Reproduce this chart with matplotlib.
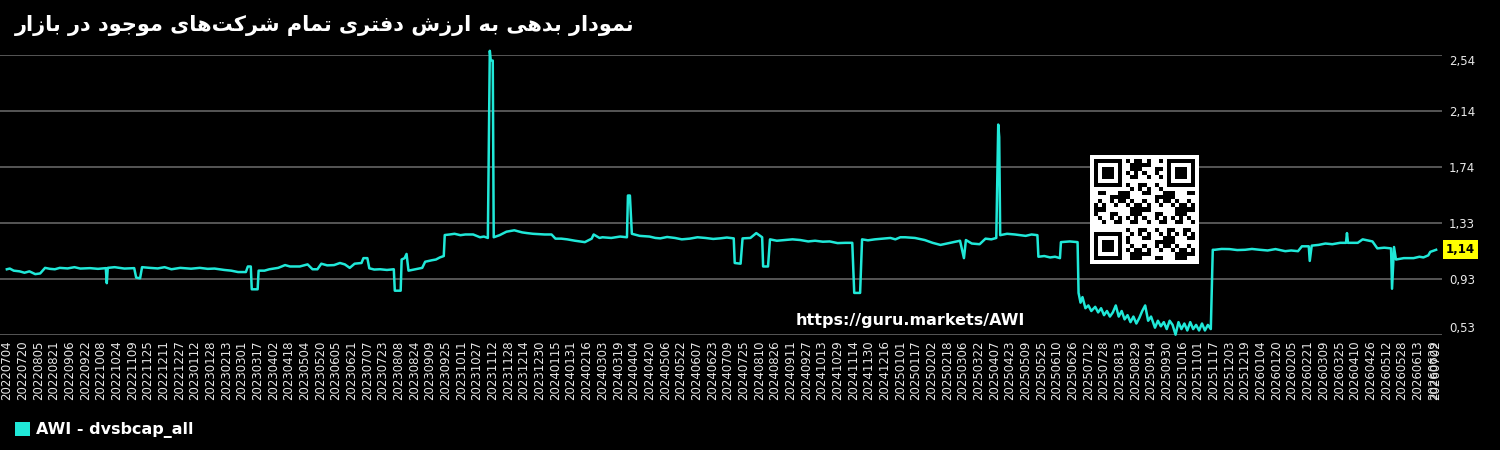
import matplotlib
matplotlib.use("Agg")
import matplotlib.pyplot as plt
from matplotlib.patches import Patch, Rectangle
from matplotlib.transforms import ScaledTranslation
import numpy as np
import pandas as pd

TITLE = "نمودار بدهی به ارزش دفتری تمام شرکت‌های موجود در بازار"
SERIES_NAME = "AWI - dvsbcap_all"
WATERMARK = "https://guru.markets/AWI"
LINE_COLOR = "#20e8d8"

dates_2022 = ["2022-07-04", "2022-07-07", "2022-07-11", "2022-07-17", "2022-07-22", "2022-07-27",
              "2022-08-02", "2022-08-07", "2022-08-12", "2022-08-17", "2022-08-22", "2022-08-27",
              "2022-09-04", "2022-09-11", "2022-09-17", "2022-09-27", "2022-10-05", "2022-10-13",
              "2022-10-14", "2022-10-15", "2022-10-22", "2022-11-01", "2022-11-11", "2022-11-13",
              "2022-11-17", "2022-11-19", "2022-11-27", "2022-12-05", "2022-12-12", "2022-12-19",
              "2022-12-28"]
values_2022 = [1.00, 1.005, 0.99, 0.985, 0.975, 0.985,
               0.965, 0.97, 1.01, 1.003, 1.00, 1.01,
               1.006, 1.015, 1.005, 1.008, 1.003, 1.008,
               0.90, 1.01, 1.015, 1.005, 1.008, 0.94,
               0.935, 1.015, 1.01, 1.006, 1.015, 1.00,
               1.01]

dates_2023 = ["2023-01-08", "2023-01-17", "2023-01-25", "2023-02-01", "2023-02-11", "2023-02-18",
              "2023-02-25", "2023-03-05", "2023-03-07", "2023-03-10", "2023-03-11", "2023-03-17",
              "2023-03-18", "2023-03-24", "2023-03-29", "2023-04-07", "2023-04-14", "2023-04-19",
              "2023-04-29", "2023-05-07", "2023-05-12", "2023-05-17", "2023-05-21", "2023-05-27",
              "2023-06-03", "2023-06-09", "2023-06-14", "2023-06-19", "2023-06-24", "2023-07-01",
              "2023-07-03", "2023-07-07", "2023-07-09", "2023-07-14", "2023-07-20", "2023-07-27",
              "2023-08-03", "2023-08-04", "2023-08-10", "2023-08-11", "2023-08-14", "2023-08-16",
              "2023-08-18", "2023-08-25", "2023-09-01", "2023-09-04", "2023-09-11", "2023-09-15",
              "2023-09-19", "2023-09-23", "2023-09-24", "2023-09-29", "2023-10-04", "2023-10-10",
              "2023-10-15", "2023-10-23", "2023-10-30", "2023-11-03", "2023-11-07", "2023-11-09",
              "2023-11-10", "2023-11-12", "2023-11-13", "2023-11-19", "2023-11-26", "2023-12-04",
              "2023-12-12", "2023-12-17", "2023-12-23"]
values_2023 = [1.004, 1.01, 1.003, 1.005, 0.995, 0.99,
               0.98, 0.98, 1.02, 1.02, 0.856, 0.856,
               0.99, 0.99, 1.00, 1.01, 1.03, 1.02,
               1.02, 1.035, 1.00, 1.00, 1.04, 1.028,
               1.03, 1.045, 1.035, 1.01, 1.04, 1.045,
               1.08, 1.08, 1.007, 0.998, 1.00, 0.995,
               1.00, 0.846, 0.846, 1.07, 1.08, 1.11,
               0.99, 1.00, 1.01, 1.054, 1.065, 1.07,
               1.085, 1.095, 1.246, 1.25, 1.255, 1.245,
               1.25, 1.25, 1.23, 1.235, 1.225, 2.57,
               2.50, 2.50, 1.23, 1.245, 1.27, 1.28,
               1.265, 1.26, 1.255]

dates_2024 = ["2024-01-04", "2024-01-11", "2024-01-15", "2024-01-21", "2024-01-27", "2024-02-04",
              "2024-02-14", "2024-02-21", "2024-02-23", "2024-02-29", "2024-03-03", "2024-03-12",
              "2024-03-21", "2024-03-28", "2024-03-29", "2024-03-31", "2024-04-02", "2024-04-10",
              "2024-04-20", "2024-04-26", "2024-05-01", "2024-05-08", "2024-05-16", "2024-05-23",
              "2024-05-31", "2024-06-08", "2024-06-16", "2024-06-24", "2024-07-01", "2024-07-08",
              "2024-07-15", "2024-07-16", "2024-07-22", "2024-07-24", "2024-08-01", "2024-08-07",
              "2024-08-13", "2024-08-14", "2024-08-19", "2024-08-21", "2024-08-28", "2024-09-05",
              "2024-09-13", "2024-09-21", "2024-09-29", "2024-10-06", "2024-10-14", "2024-10-21",
              "2024-10-29", "2024-11-06", "2024-11-13", "2024-11-15", "2024-11-21", "2024-11-23",
              "2024-11-29", "2024-12-06", "2024-12-14", "2024-12-22", "2024-12-27"]
values_2024 = [1.25, 1.25, 1.22, 1.22, 1.215, 1.205,
               1.195, 1.22, 1.25, 1.225, 1.23, 1.225,
               1.235, 1.23, 1.53, 1.53, 1.255, 1.24,
               1.235, 1.225, 1.222, 1.232, 1.225, 1.215,
               1.22, 1.23, 1.225, 1.218, 1.222, 1.228,
               1.222, 1.045, 1.04, 1.222, 1.225, 1.26,
               1.23, 1.02, 1.02, 1.215, 1.205, 1.21,
               1.215, 1.21, 1.20, 1.205, 1.198, 1.20,
               1.188, 1.19, 1.19, 0.83, 0.83, 1.215,
               1.208, 1.215, 1.22, 1.225, 1.215]

dates_2025 = ["2025-01-01", "2025-01-06", "2025-01-16", "2025-01-26", "2025-02-03", "2025-02-11",
              "2025-02-21", "2025-03-03", "2025-03-07", "2025-03-09", "2025-03-15", "2025-03-23",
              "2025-03-29", "2025-04-04", "2025-04-09", "2025-04-11", "2025-04-12", "2025-04-13",
              "2025-04-20", "2025-04-28", "2025-05-09", "2025-05-15", "2025-05-21", "2025-05-22",
              "2025-05-28", "2025-06-03", "2025-06-08", "2025-06-13", "2025-06-14", "2025-06-23",
              "2025-07-01", "2025-07-02", "2025-07-04", "2025-07-06", "2025-07-09", "2025-07-12",
              "2025-07-15", "2025-07-19", "2025-07-22", "2025-07-25", "2025-07-28", "2025-07-31",
              "2025-08-03", "2025-08-06", "2025-08-09", "2025-08-12", "2025-08-15", "2025-08-18",
              "2025-08-21", "2025-08-24", "2025-08-27", "2025-08-30", "2025-09-02", "2025-09-05",
              "2025-09-08", "2025-09-11", "2025-09-14", "2025-09-18", "2025-09-21", "2025-09-24",
              "2025-09-27", "2025-09-30", "2025-10-03", "2025-10-06", "2025-10-09", "2025-10-12",
              "2025-10-15", "2025-10-18", "2025-10-21", "2025-10-24", "2025-10-27", "2025-10-30",
              "2025-11-02", "2025-11-05", "2025-11-08", "2025-11-11", "2025-11-14", "2025-11-16",
              "2025-11-18", "2025-11-25", "2025-12-03", "2025-12-11", "2025-12-19", "2025-12-26"]
values_2025 = [1.23, 1.23, 1.225, 1.21, 1.19, 1.175,
               1.19, 1.205, 1.08, 1.21, 1.185, 1.18,
               1.22, 1.215, 1.225, 2.04, 1.95, 1.245,
               1.255, 1.25, 1.24, 1.25, 1.245, 1.09,
               1.095, 1.085, 1.09, 1.08, 1.195, 1.20,
               1.195, 0.83, 0.76, 0.80, 0.72, 0.74,
               0.70, 0.73, 0.69, 0.72, 0.67, 0.70,
               0.66, 0.69, 0.74, 0.66, 0.70, 0.64,
               0.67, 0.62, 0.66, 0.61, 0.65, 0.70,
               0.74, 0.63, 0.66, 0.58, 0.63, 0.59,
               0.62, 0.57, 0.63, 0.60, 0.53, 0.62,
               0.57, 0.61, 0.56, 0.62, 0.57, 0.60,
               0.56, 0.61, 0.56, 0.60, 0.57, 1.14,
               1.14, 1.146, 1.145, 1.138, 1.14, 1.146]

dates_2026 = ["2026-01-03", "2026-01-11", "2026-01-19", "2026-01-29", "2026-02-04", "2026-02-11",
              "2026-02-15", "2026-02-22", "2026-02-23", "2026-02-25", "2026-03-04", "2026-03-11",
              "2026-03-18", "2026-03-26", "2026-04-01", "2026-04-02", "2026-04-03", "2026-04-13",
              "2026-04-18", "2026-04-28", "2026-05-03", "2026-05-10", "2026-05-17", "2026-05-18",
              "2026-05-20", "2026-05-22", "2026-05-30", "2026-06-09", "2026-06-15", "2026-06-19",
              "2026-06-24", "2026-06-26", "2026-07-02"]
values_2026 = [1.14, 1.135, 1.145, 1.13, 1.135, 1.13,
               1.165, 1.165, 1.06, 1.17, 1.175, 1.185,
               1.18, 1.19, 1.19, 1.26, 1.19, 1.19,
               1.215, 1.20, 1.15, 1.155, 1.15, 0.86,
               1.16, 1.07, 1.08, 1.08, 1.09, 1.085,
               1.10, 1.125, 1.14]

y_ticks = [0.5275, 0.93, 1.3325, 1.735, 2.1375, 2.54]

# Arabic presentation forms: isolated, final, initial, medial
FORMS = {
    "ا": ("\uFE8D", "\uFE8E"),
    "ب": ("\uFE8F", "\uFE90", "\uFE91", "\uFE92"),
    "ت": ("\uFE95", "\uFE96", "\uFE97", "\uFE98"),
    "ج": ("\uFE9D", "\uFE9E", "\uFE9F", "\uFEA0"),
    "د": ("\uFEA9", "\uFEAA"),
    "ر": ("\uFEAD", "\uFEAE"),
    "ز": ("\uFEAF", "\uFEB0"),
    "ش": ("\uFEB5", "\uFEB6", "\uFEB7", "\uFEB8"),
    "ف": ("\uFED1", "\uFED2", "\uFED3", "\uFED4"),
    "م": ("\uFEE1", "\uFEE2", "\uFEE3", "\uFEE4"),
    "ن": ("\uFEE5", "\uFEE6", "\uFEE7", "\uFEE8"),
    "ه": ("\uFEE9", "\uFEEA", "\uFEEB", "\uFEEC"),
    "و": ("\uFEED", "\uFEEE"),
    "ک": ("\uFB8E", "\uFB8F", "\uFB90", "\uFB91"),
    "ی": ("\uFBFC", "\uFBFD", "\uFBFE", "\uFBFF"),
}


def shape_rtl(text):
    # matplotlib has no bidi/shaping: pick joined glyph forms, then lay out right-to-left
    out = []
    for i, ch in enumerate(text):
        if ch not in FORMS:
            if ch != "\u200c":
                out.append(ch)
            continue
        prev = text[i - 1] if i > 0 else ""
        nxt = text[i + 1] if i + 1 < len(text) else ""
        f = FORMS[ch]
        join_prev = prev in FORMS and len(FORMS[prev]) == 4
        join_next = len(f) == 4 and nxt in FORMS
        if join_prev and join_next:
            out.append(f[3])
        elif join_prev:
            out.append(f[1])
        elif join_next:
            out.append(f[2])
        else:
            out.append(f[0])
    return "".join(reversed(out))


x = pd.to_datetime(dates_2022 + dates_2023 + dates_2024 + dates_2025 + dates_2026)
y = np.array(values_2022 + values_2023 + values_2024 + values_2025 + values_2026)

fig = plt.figure(figsize=(15, 4.5), dpi=100, facecolor="black")
ax = fig.add_axes([0, 1 - 335 / 450, 1442 / 1500, 280 / 450])
ax.set_facecolor("black")

ax.plot(x, y, color=LINE_COLOR, lw=1.8, clip_on=False, zorder=3)

ax.set_xlim(x[0] - pd.Timedelta(days=7), x[-1] + pd.Timedelta(days=6))
ax.set_ylim(y_ticks[0], y_ticks[-1])

xt = list(pd.date_range(x[0], x[-1], freq="16D"))
if xt[-1] != x[-1]:
    xt.append(x[-1])
ax.set_xticks(xt)
ax.set_xticklabels([d.strftime("%Y%m%d") for d in xt], rotation=90, fontsize=8.5, color="#e8e8e8")

ax.yaxis.tick_right()
ax.set_yticks(y_ticks)
ax.set_yticklabels([f"{v:.2f}".replace(".", ",") for v in y_ticks], fontsize=8.5, color="#e8e8e8")
ylabels = ax.get_yticklabels()
ylabels[0].set_va("bottom")
ylabels[-1].set_va("top")
ylabels[-1].set_transform(ylabels[-1].get_transform()
                          + ScaledTranslation(0, -3 / 72, fig.dpi_scale_trans))
ax.tick_params(axis="both", length=0, pad=5)
ax.tick_params(axis="x", pad=4)
ax.grid(axis="y", color="#5c5c5c", lw=1.3)
ax.grid(axis="x", visible=False)
for s in ax.spines.values():
    s.set_visible(False)

# last value tag
last = y[-1]
ax.annotate(f"{last:.2f}".replace(".", ","), xy=(1, last),
            xycoords=("axes fraction", "data"), xytext=(3, 0), textcoords="offset points",
            ha="left", va="center", fontsize=8.5, fontweight="bold", color="black",
            bbox=dict(boxstyle="square,pad=0.25", fc="#ffff00", ec="none"))

fig.text(15 / 1500, 1 - 25 / 450, shape_rtl(TITLE), ha="left", va="center",
         fontsize=15, fontweight="bold", color="white", family="DejaVu Sans")

fig.text(796 / 1500, 1 - 320 / 450, WATERMARK, ha="left", va="center",
         fontsize=11.5, fontweight="bold", color="white")

# QR-style badge
qr_ax = fig.add_axes([1090 / 1500, 1 - 264 / 450, 109 / 1500, 109 / 450])
qr_ax.set_xlim(-1, 26)
qr_ax.set_ylim(26, -1)
qr_ax.axis("off")
qr_ax.add_patch(Rectangle((-1, -1), 27, 27, color="white"))
n = 25
grid = np.zeros((n, n), dtype=bool)
for i in range(n):
    for j in range(n):
        grid[i, j] = ((i * 13 + j * 7 + i * j * 3) % 11) < 5
for (r0, c0) in [(0, 0), (0, n - 7), (n - 7, 0)]:
    grid[max(r0 - 1, 0):r0 + 8, max(c0 - 1, 0):c0 + 8] = False
    for r in range(7):
        for c in range(7):
            grid[r0 + r, c0 + c] = max(abs(r - 3), abs(c - 3)) != 2
for r in range(n):
    for c in range(n):
        if grid[r, c]:
            qr_ax.add_patch(Rectangle((c, r), 1, 1, color="black", lw=0))

fig.legend(handles=[Patch(facecolor=LINE_COLOR, edgecolor="none", label=SERIES_NAME)],
           loc="center left", bbox_to_anchor=(15 / 1500, 1 - 430 / 450), frameon=False,
           borderpad=0, borderaxespad=0,
           handlelength=0.95, handleheight=0.95, handletextpad=0.35,
           prop={"size": 11.5, "weight": "bold"}, labelcolor="white")

fig.savefig("out.png", dpi=100, facecolor="black")
